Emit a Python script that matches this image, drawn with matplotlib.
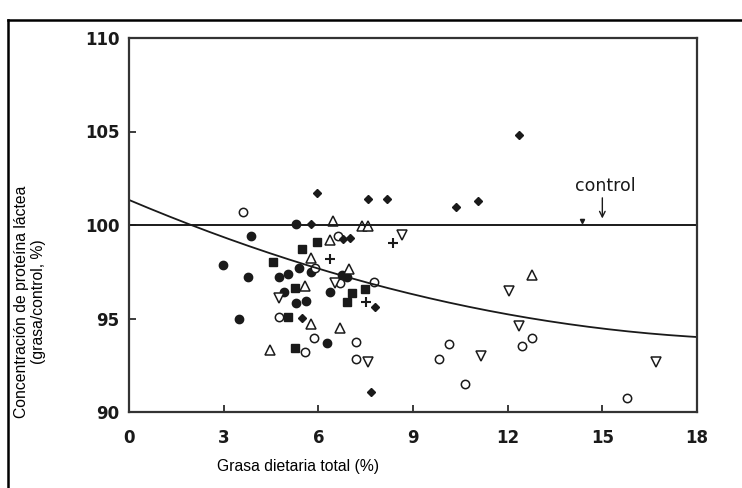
import matplotlib.pyplot as plt
import numpy as np
from matplotlib.lines import Line2D

# data: grasa dietaria total (%) vs proteina (% of control)
filled_circle_x = [3.87, 2.98, 3.77, 5.29, 3.49, 4.75, 5.04, 5.39, 5.77, 5.29, 5.61, 6.37, 6.75, 6.91, 6.27, 4.91]
filled_circle_y = [99.41, 97.86, 97.22, 100.05, 94.97, 97.22, 97.38, 97.70, 97.49, 95.83, 95.94, 96.42, 97.33, 97.22, 93.69, 96.42]

filled_square_x = [5.96, 5.48, 4.56, 7.07, 6.91, 7.48, 5.26, 5.04, 5.26]
filled_square_y = [99.09, 98.72, 98.02, 96.36, 95.88, 96.58, 93.42, 95.08, 96.63]

open_circle_x = [3.61, 6.62, 5.89, 7.76, 4.75, 5.86, 5.58, 7.19, 7.19, 10.14, 9.82, 10.65, 12.45, 12.77, 15.78, 6.69]
open_circle_y = [100.70, 99.41, 97.70, 96.95, 95.08, 93.96, 93.21, 93.74, 92.83, 93.64, 92.83, 91.50, 93.53, 93.96, 90.75, 96.90]

open_tri_up_x = [6.46, 7.38, 7.57, 6.37, 5.77, 6.97, 5.58, 5.77, 6.69, 4.47, 12.77]
open_tri_up_y = [100.21, 99.95, 99.95, 99.20, 98.24, 97.65, 96.74, 94.71, 94.49, 93.32, 97.33]

open_tri_down_x = [4.75, 6.53, 7.57, 8.65, 12.04, 12.36, 11.15, 16.70]
open_tri_down_y = [96.10, 96.90, 92.67, 99.47, 96.47, 94.60, 93.00, 92.67]

tiny_mark_x = [14.35]
tiny_mark_y = [100.21]

diamond_x = [5.96, 7.57, 5.77, 6.78, 7.00, 12.36, 8.17, 10.36, 11.06, 5.48, 7.79, 7.67]
diamond_y = [101.71, 101.39, 100.05, 99.25, 99.30, 104.81, 101.39, 100.96, 101.28, 95.03, 95.61, 91.07]

plus_x = [6.37, 8.37, 7.51]
plus_y = [98.18, 99.04, 95.88]

# quadratic response curve (intercept, linear, quadratic) as drawn
curve_coef = [101.34, -0.7143, 0.01706]
control_level = 100.0

x_ticks = [0, 3, 6, 9, 12, 15, 18]
y_ticks = [90, 95, 100, 105, 110]

fig = plt.figure(figsize=(7.42, 4.88), dpi=100)
ax = fig.add_axes([129 / 742, 1 - 412 / 488, 568 / 742, 374 / 488])

ink = "#1a1a1a"
ax.plot(filled_circle_x, filled_circle_y, "o", color=ink, ms=6, ls="none")
ax.plot(filled_square_x, filled_square_y, "s", color=ink, ms=6, ls="none")
ax.plot(open_circle_x, open_circle_y, "o", mfc="white", mec=ink, mew=1.1, ms=6, ls="none")
ax.plot(open_tri_up_x, open_tri_up_y, "^", mfc="white", mec=ink, mew=1.1, ms=6.5, ls="none")
ax.plot(open_tri_down_x, open_tri_down_y, "v", mfc="white", mec=ink, mew=1.1, ms=6.5, ls="none")
ax.plot(tiny_mark_x, tiny_mark_y, "v", color=ink, ms=3, ls="none")
ax.plot(diamond_x, diamond_y, "D", color=ink, ms=4.5, ls="none")
ax.plot(plus_x, plus_y, "+", color=ink, ms=7, mew=1.5, ls="none")

xs = np.linspace(0, 18, 200)
ax.plot(xs, curve_coef[0] + curve_coef[1] * xs + curve_coef[2] * xs ** 2, color=ink, lw=1.3)
ax.plot([0, 18], [control_level, control_level], color=ink, lw=1.4)

ax.text(15.1, 102.1, "control", ha="center", va="center", fontsize=12.5, color=ink)
ax.annotate("", xy=(15.0, 100.2), xytext=(15.0, 101.6),
            arrowprops=dict(arrowstyle="->", color=ink, lw=1.0))

ax.set_xlim(0, 18)
ax.set_ylim(90, 110)
ax.set_xticks(x_ticks)
ax.set_yticks(y_ticks)
ax.tick_params(direction="in", length=5, width=1.2, color=ink, top=False, right=False)
ax.tick_params(axis="x", pad=12)
ax.tick_params(axis="y", pad=7)
for lab in ax.get_xticklabels() + ax.get_yticklabels():
    lab.set_fontweight("bold")
    lab.set_fontsize(12)
    lab.set_color(ink)
for sp in ax.spines.values():
    sp.set_linewidth(1.6)
    sp.set_color("#333333")

fig.text(298 / 742, 1 - 467 / 488, "Grasa dietaria total (%)", ha="center", va="center",
         fontsize=11.3, family="Liberation Sans")
fig.text(30 / 742, 1 - 302 / 488, "Concentración de proteína láctea\n(grasa/control, %)",
         rotation=90, ha="center", va="center", multialignment="center",
         fontsize=11.3, family="Liberation Sans")

# outer frame (top and left edges visible)
fig.add_artist(Line2D([8 / 742, 1], [1 - 20 / 488, 1 - 20 / 488], transform=fig.transFigure, color="black", lw=1.8))
fig.add_artist(Line2D([8 / 742, 8 / 742], [0, 1 - 20 / 488], transform=fig.transFigure, color="black", lw=1.8))

fig.savefig("out.png", dpi=100)
